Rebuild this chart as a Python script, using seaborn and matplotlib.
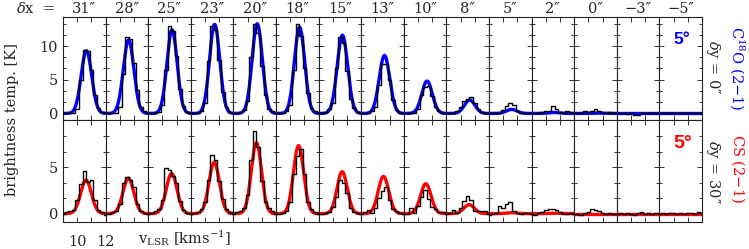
import numpy as np
import pandas as pd
import matplotlib
matplotlib.use('Agg')
import matplotlib.pyplot as plt
from matplotlib.ticker import MultipleLocator, FixedLocator
import seaborn as sns

# offsets along the cut (arcsec)
dx_labels = ['31″', '28″', '25″', '23″', '20″', '18″', '15″', '13″', '10″', '8″',
             '5″', '2″', '0″', '−3″', '−5″']

# channel velocities (km/s)
v_chan = [9.0, 9.25, 9.5, 9.75, 10.0, 10.25, 10.5, 10.75, 11.0, 11.25, 11.5, 11.75, 12.0]

# observed C18O (2-1) spectra, dy = 0"
c18o_obs = [
    [0, 0, 0, 0.1, 0.6, 5.0, 9.4, 9.3, 6.5, 2.8, 0.8, 0.2, 0.0],
    [0, 0, 0.1, 0.1, 1.0, 5.8, 11.3, 11.0, 7.5, 3.5, 1.0, 0.3, 0.1],
    [0, 0, 0, 0.2, 1.2, 6.5, 12.9, 12.2, 8.5, 3.6, 1.1, 0.2, 0],
    [0, 0, 0.1, 0.3, 1.5, 7.8, 13.0, 12.3, 7.9, 3.2, 0.9, 0.2, 0],
    [0, 0.1, 0.2, 0.5, 1.8, 8.3, 13.2, 12.0, 7.0, 2.7, 0.7, 0.3, 0.1],
    [0, 0, 0.1, 0.4, 1.2, 6.5, 13.3, 11.5, 6.8, 3.0, 0.8, 0.3, 0],
    [0, 0, 0.2, 0.6, 1.5, 6.8, 11.4, 10.5, 6.3, 2.2, 0.8, 0.2, 0],
    [0, 0, 0.1, 0.3, 1.0, 4.2, 7.4, 7.3, 5.0, 2.0, 0.5, 0.1, 0],
    [0, 0, 0, 0.1, 0.6, 2.8, 3.9, 4.0, 2.6, 1.0, 0.3, 0.1, 0],
    [0, 0, 0.1, 0.4, 0.9, 1.8, 2.2, 2.5, 1.6, 0.6, 0.2, 0, 0],
    [0, 0, 0, 0.1, 0.5, 1.1, 1.6, 1.2, 0.3, 0.1, 0, 0.1, 0],
    [0, 0.1, 0.1, 0.2, 0.3, 0.4, 1.1, 0.6, 0.2, 0.1, 0.3, 0.2, 0],
    [0, 0.1, 0.1, 0.3, 0.2, 0.3, 0.7, 0.4, 0.1, 0, 0.2, 0.1, 0],
    [0, 0, 0, -0.1, 0, -0.2, -0.2, 0, 0.1, 0, 0, 0, 0],
    [0, 0, 0, 0, 0.05, 0, 0, 0.05, 0, 0, 0, 0, 0],
]

# observed CS (2-1) spectra, dy = 30"
cs_obs = [
    [0, 0.2, 0.3, 0.4, 1.5, 3.2, 4.6, 3.4, 3.6, 1.5, 0.4, 0.2, -0.2],
    [0, 0, 0.2, 0.3, 1.0, 3.3, 3.9, 3.6, 2.9, 1.0, 0.3, 0.1, 0],
    [0, 0.1, 0.3, 0.5, 1.5, 4.9, 4.7, 4.0, 3.3, 1.4, 0.4, 0.1, 0],
    [0, 0.1, 0.2, 0.5, 1.2, 3.6, 6.3, 5.8, 3.5, 1.6, 0.5, 0.2, 0],
    [0, 0.2, 0.3, 0.6, 2.0, 5.8, 8.9, 7.2, 3.5, 1.2, 0.6, 0.3, 0],
    [0, 0, 0.1, 0.3, 1.2, 4.2, 6.2, 6.9, 4.3, 1.3, 0.5, 0.2, 0],
    [0, 0, 0.1, 0.2, 0.7, 1.8, 3.6, 3.3, 2.2, 0.6, 0.2, 0.1, 0],
    [0, 0.2, 0.4, 0.1, 0.6, 1.7, 2.4, 2.9, 1.5, 0.5, 0.3, 0.1, 0],
    [0, 0, 0.6, 0.1, 0.8, 1.8, 2.5, 1.6, 0.7, 0.5, 0.2, 0.2, 0],
    [0, 0.1, 0.4, 0.1, 0.6, 1.4, 1.9, 1.5, 0.3, 0.3, 0.3, 0.3, 0],
    [-0.2, 0, 0.1, 0.8, 0.6, 1.0, 1.2, 0.3, 0.1, 0, 0.1, 0.1, 0],
    [0, -0.1, 0.1, 0.2, 0.4, 0.5, 0.5, 0.4, 0.2, 0, 0, 0.1, 0],
    [0, 0, -0.1, 0.1, 0.2, 0.5, 0.4, 0.3, 0.1, 0, 0.1, 0, 0],
    [0, 0.1, 0, 0.1, 0, -0.1, 0.1, 0.2, 0, 0.1, 0, 0.1, 0],
    [0, 0.1, 0, 0.1, 0.1, 0, 0.1, 0, 0.1, 0.1, 0, 0.2, 0.1],
]

# gaussian fit parameters: amplitude [K], centre [km/s], sigma [km/s]
c18o_amp = [9.3, 10.9, 12.4, 13.2, 13.3, 12.8, 11.6, 8.6, 4.8, 2.0, 0.6, 0.15, 0.05, 0.0, 0.0]
c18o_v0 = [10.65, 10.62, 10.68, 10.68, 10.68, 10.66, 10.68, 10.64, 10.64, 10.64, 10.6, 10.6, 10.6, 10.6, 10.6]
c18o_sig = [0.37, 0.37, 0.36, 0.36, 0.36, 0.36, 0.37, 0.37, 0.37, 0.37, 0.37, 0.37, 0.37, 0.37, 0.37]

cs_amp = [3.6, 3.8, 4.3, 5.5, 7.6, 7.3, 4.5, 4.0, 3.2, 0.96, 0.1, 0.05, 0.0, 0.0, 0.0]
cs_v0 = [10.62, 10.6, 10.65, 10.65, 10.62, 10.59, 10.66, 10.57, 10.55, 10.6, 10.6, 10.6, 10.6, 10.6, 10.6]
cs_sig = [0.38, 0.38, 0.38, 0.37, 0.36, 0.36, 0.36, 0.37, 0.37, 0.37, 0.37, 0.37, 0.37, 0.37, 0.37]

sns.set_style('ticks')
plt.rcParams['font.family'] = ['DejaVu Serif']
plt.rcParams['mathtext.fontset'] = 'dejavuserif'

fig, axes = plt.subplots(2, 15, figsize=(7.49, 2.49), dpi=100, sharex=True)
fig.subplots_adjust(left=0.0841, right=0.9372, top=0.9317, bottom=0.1084,
                    wspace=0, hspace=0)

v_fine = np.linspace(9.0, 12.0, 200)
rows = [(c18o_obs, c18o_amp, c18o_v0, c18o_sig, '#0000ff', 14.3),
        (cs_obs, cs_amp, cs_v0, cs_sig, '#ff0000', 10.1)]

for r, (obs, amp, v0, sig, col, ytop) in enumerate(rows):
    for c in range(15):
        ax = axes[r, c]
        fit = amp[c] * np.exp(-0.5 * ((v_fine - v0[c]) / sig[c]) ** 2)
        sns.lineplot(x=v_fine, y=fit, ax=ax, color=col, lw=2.4, zorder=2)
        df = pd.DataFrame({'v': v_chan, 'T': obs[c]})
        sns.lineplot(data=df, x='v', y='T', ax=ax, color='black', lw=1.0,
                     drawstyle='steps-mid', zorder=3)
        ax.set_xlim(9.0, 12.0)
        ax.set_ylim(-0.9, ytop)
        ax.set_xlabel('')
        ax.set_ylabel('')
        ax.xaxis.set_major_locator(MultipleLocator(1))
        if r == 0:
            ax.yaxis.set_major_locator(FixedLocator([0, 5, 10]))
        else:
            ax.yaxis.set_major_locator(FixedLocator([0, 5]))
        ax.yaxis.set_minor_locator(MultipleLocator(5 / 3))
        ax.tick_params(which='both', direction='in', top=True, right=True,
                       bottom=True, left=True, labelsize=10.5, color='#333333')
        ax.tick_params(which='major', length=3.5, width=0.7)
        ax.tick_params(which='minor', length=2.5, width=0.7)
        for sp in ax.spines.values():
            sp.set_linewidth(0.8)
            sp.set_color('#222222')
        if c > 0:
            ax.tick_params(labelleft=False)
        if r == 0:
            ax.tick_params(labelbottom=False)
            ax.set_title(dx_labels[c], fontsize=10.5, pad=3)
        else:
            if c == 0:
                ax.set_xticks([9, 10, 11, 12])
                ax.set_xticklabels(['', '10', '', '12'])
            else:
                ax.tick_params(labelbottom=False)

axes[1, 0].tick_params(axis='x', pad=9)

fig.text(0.047, 0.965, r'$\delta$x  =', fontsize=10.5, ha='center', va='center')
fig.text(0.016, 0.52, 'brightness temp. [K]', fontsize=10.5, rotation=90,
         ha='center', va='center')
fig.text(0.247, 0.045, r'v$_{\rm LSR}$ [kms$^{-1}$]', fontsize=10.5,
         ha='center', va='center')

axes[0, 14].text(0.72, 0.78, '5°', transform=axes[0, 14].transAxes, color='#0000ff',
                 fontsize=12.5, fontweight='bold', family='Liberation Sans',
                 ha='right', va='center')
axes[1, 14].text(0.76, 0.77, '5°', transform=axes[1, 14].transAxes, color='#ff0000',
                 fontsize=14, fontweight='bold', family='Liberation Sans',
                 ha='right', va='center')

fig.text(0.952, 0.73, r'$\delta$y = 0″', fontsize=10.5, rotation=270,
         ha='center', va='center')
fig.text(0.985, 0.725, r'C$^{18}$O (2$-$1)', fontsize=10.5, rotation=270,
         color='#0000ff', ha='center', va='center')
fig.text(0.952, 0.31, r'$\delta$y = 30″', fontsize=10.5, rotation=270,
         ha='center', va='center')
fig.text(0.985, 0.325, r'CS (2$-$1)', fontsize=10.5, rotation=270,
         color='#ff0000', ha='center', va='center')

plt.savefig('out.png', dpi=100)
